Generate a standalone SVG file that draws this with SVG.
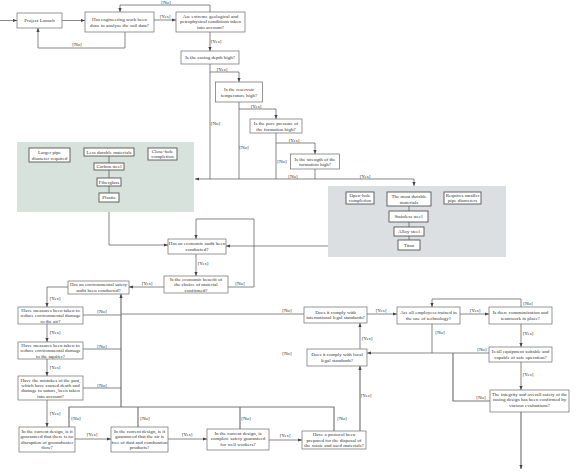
<svg xmlns="http://www.w3.org/2000/svg" width="576" height="472" viewBox="0 0 576 472">
<style>
text{font-family:"Liberation Serif","Times New Roman",serif;font-size:5px;fill:#333;text-anchor:middle}
.n rect{fill:#fff;stroke:#6a6a6a;stroke-width:0.7}
.in rect{fill:#fff;stroke:#555;stroke-width:0.9}
.c path{fill:none;stroke:#555;stroke-width:0.7}
.c path.b{stroke:#777;stroke-width:1.2}
</style>
<defs>
<marker id="a" viewBox="0 0 10 10" refX="10" refY="5" markerWidth="4" markerHeight="4" orient="auto" markerUnits="userSpaceOnUse"><path d="M0,1 L10,5 L0,9z" fill="#444"/></marker>
</defs>
<rect width="576" height="472" fill="#fff"/>
<rect id="green-region" x="17" y="142" width="177" height="70" fill="#d8e2dc"/>
<rect id="gray-region" x="328" y="186" width="178" height="71" fill="#dcdfe2"/>
<g class="c" id="connectors">
<path d="M0,20.5H17" marker-end="url(#a)"/>
<path d="M62,20.5H85" marker-end="url(#a)"/>
<path d="M154,20H176" marker-end="url(#a)"/>
<path d="M210,12V5H120V12" marker-end="url(#a)"/>
<path d="M125,32V48H38V28" marker-end="url(#a)"/>
<path d="M210,32V51" marker-end="url(#a)"/>
<path d="M210,64V179"/>
<path d="M210,72H239V82" marker-end="url(#a)"/>
<path d="M239,102V179"/>
<path d="M239,109H276V119" marker-end="url(#a)"/>
<path d="M276,133V179"/>
<path d="M276,143H315V154" marker-end="url(#a)"/>
<path d="M315,169V179"/>
<path d="M414,179H195" marker-end="url(#a)"/>
<path d="M414,179V186" marker-end="url(#a)"/>
<path d="M109,156V193"/>
<path d="M409,206V240"/>
<path d="M109,212V245H168" marker-end="url(#a)"/>
<path d="M328,246H226" marker-end="url(#a)"/>
<path d="M196,254V276" marker-end="url(#a)"/>
<path d="M228,287H254V219H196V239" marker-end="url(#a)"/>
<path d="M164,287H129" marker-end="url(#a)"/>
<path d="M68,287H47V307" marker-end="url(#a)"/>
<path d="M47,324V342" marker-end="url(#a)"/>
<path d="M47,359V376" marker-end="url(#a)"/>
<path d="M47,400V427" marker-end="url(#a)"/>
<path d="M75,439H111" marker-end="url(#a)"/>
<path d="M168,439H207" marker-end="url(#a)"/>
<path d="M269,440H302" marker-end="url(#a)"/>
<path class="b" d="M360,431V366" marker-end="url(#a)"/>
<path d="M360,349V323" marker-end="url(#a)"/>
<path d="M367,314H397" marker-end="url(#a)"/>
<path d="M460,314H489" marker-end="url(#a)"/>
<path d="M521,307V299H432V307" marker-end="url(#a)"/>
<path d="M521,324V347" marker-end="url(#a)"/>
<path d="M521,362V390" marker-end="url(#a)"/>
<path class="b" d="M521,412V469" marker-end="url(#a)"/>
<path d="M432,324V353H367" marker-end="url(#a)"/>
<path d="M489,353H432"/>
<path class="b" d="M490,401H453V353"/>
<path d="M304,314H121"/>
<path d="M83,315H121"/>
<path d="M83,349H121"/>
<path d="M83,388H121"/>
<path class="b" d="M121,407V294" marker-end="url(#a)"/>
<path class="b" d="M69,427V407H334V431"/>
<path class="b" d="M138,427V407"/>
<path class="b" d="M240,429V407"/>
</g>
<g id="labels">
<text x="165" y="18">[Yes]</text>
<text x="166" y="4">[No]</text>
<text x="77" y="46">[No]</text>
<text x="216" y="42.5">[Yes]</text>
<text x="222" y="70.5">[Yes]</text>
<text x="215.5" y="124.5">[No]</text>
<text x="256" y="107.5">[Yes]</text>
<text x="244" y="148.5">[No]</text>
<text x="294" y="141.5">[Yes]</text>
<text x="282" y="162.5">[No]</text>
<text x="293" y="177.5">[No]</text>
<text x="365" y="177.5">[Yes]</text>
<text x="203" y="264.5">[Yes]</text>
<text x="240" y="284.5">[No]</text>
<text x="147" y="284.5">[Yes]</text>
<text x="55" y="299.5">[Yes]</text>
<text x="55" y="333.5">[Yes]</text>
<text x="55" y="368.5">[Yes]</text>
<text x="55" y="414.5">[Yes]</text>
<text x="92" y="435.5">[Yes]</text>
<text x="187" y="435.5">[Yes]</text>
<text x="285" y="436.5">[Yes]</text>
<text x="366" y="396.5">[Yes]</text>
<text x="367" y="339.5">[Yes]</text>
<text x="381" y="312">[Yes]</text>
<text x="475" y="312">[Yes]</text>
<text x="528" y="304.5">[No]</text>
<text x="528" y="334.5">[Yes]</text>
<text x="528" y="375.5">[Yes]</text>
<text x="440" y="333.5">[No]</text>
<text x="482" y="350.5">[No]</text>
<text x="481" y="398.5">[No]</text>
<text x="287" y="311.5">[No]</text>
<text x="102" y="312.5">[No]</text>
<text x="102" y="347.5">[No]</text>
<text x="102" y="386.5">[No]</text>
<text x="76" y="419.5">[No]</text>
<text x="145" y="419.5">[No]</text>
<text x="246" y="419.5">[No]</text>
<text x="342" y="419.5">[No]</text>
<text x="287" y="354.5">[No]</text>
</g>
<g class="n" id="project-launch"><rect x="17" y="13" width="45" height="15"/><text x="39.5" y="22.2">Project Launch</text></g>
<g class="n" id="engineering"><rect x="85" y="12" width="69" height="20"/><text x="119.5" y="20.5">Has engineering work been</text><text x="119.5" y="26.5">done to analyze the soil data?</text></g>
<g class="n" id="extreme"><rect x="176" y="12" width="69" height="20"/><text x="210.5" y="17.8">Are extreme geological and</text><text x="210.5" y="23.3">petrophysical conditions taken</text><text x="210.5" y="28.8">into account?</text></g>
<g class="n" id="casing-depth"><rect x="181" y="51" width="58" height="13"/><text x="210" y="59.2">Is the casing depth high?</text></g>
<g class="n" id="reservoir"><rect x="215.5" y="82" width="47" height="20"/><text x="239" y="90.5">Is the reservoir</text><text x="239" y="96.5">temperature high?</text></g>
<g class="n" id="pore"><rect x="250" y="119" width="52" height="14"/><text x="276" y="125">Is the pore pressure of</text><text x="276" y="130.5">the formation high?</text></g>
<g class="n" id="strength"><rect x="290.5" y="154" width="49" height="15"/><text x="315" y="160.5">Is the strength of the</text><text x="315" y="166">formation high?</text></g>
<g class="in" id="larger-pipe"><rect x="29" y="148" width="41" height="14"/><text x="49.5" y="154">Larger pipe</text><text x="49.5" y="159.5">diameter required</text></g>
<g class="in" id="less-durable"><rect x="84" y="148" width="50" height="8"/><text x="109" y="153.7">Less durable materials</text></g>
<g class="in" id="close-hole"><rect x="148" y="148" width="29" height="12"/><text x="162.5" y="153">Close-hole</text><text x="162.5" y="158.3">completion</text></g>
<g class="in" id="carbon-steel"><rect x="94" y="163" width="30" height="7"/><text x="109" y="168.2">Carbon steel</text></g>
<g class="in" id="fiberglass"><rect x="97" y="178" width="24" height="8"/><text x="109" y="183.7">Fiberglass</text></g>
<g class="in" id="plastic"><rect x="99" y="193" width="20" height="9"/><text x="109" y="199.2">Plastic</text></g>
<g class="in" id="open-hole"><rect x="346" y="192" width="28" height="12"/><text x="360" y="197">Open-hole</text><text x="360" y="202.3">completion</text></g>
<g class="in" id="most-durable"><rect x="387" y="192" width="44" height="14"/><text x="409" y="198">The most durable</text><text x="409" y="203.5">materials</text></g>
<g class="in" id="smaller-pipe"><rect x="444" y="192" width="37" height="12"/><text x="462.5" y="197">Requires smaller</text><text x="462.5" y="202.3">pipe diameters</text></g>
<g class="in" id="stainless"><rect x="389" y="211" width="39" height="11"/><text x="408.5" y="218.2">Stainless steel</text></g>
<g class="in" id="alloy"><rect x="394" y="227" width="30" height="9"/><text x="409" y="233.2">Alloy steel</text></g>
<g class="in" id="titan"><rect x="398" y="240" width="22" height="10"/><text x="409" y="246.7">Titan</text></g>
<g class="n" id="economic-audit"><rect x="168" y="239" width="58" height="15"/><text x="197" y="245">Has an economic audit been</text><text x="197" y="250.5">conducted?</text></g>
<g class="n" id="economic-benefit"><rect x="164" y="276" width="64" height="17"/><text x="196" y="281.2">Is the economic benefit of</text><text x="196" y="286.4">the choice of material</text><text x="196" y="291.6">confirmed?</text></g>
<g class="n" id="env-audit"><rect x="68" y="281" width="61" height="13"/><text x="98.5" y="286.3">Has an environmental safety</text><text x="98.5" y="291.5">audit been conducted?</text></g>
<g class="n" id="air-measures"><rect x="18" y="307" width="65" height="17"/><text x="50.5" y="312.2">Have measures been taken to</text><text x="50.5" y="317.4">reduce environmental damage</text><text x="50.5" y="322.6">to the air?</text></g>
<g class="n" id="aquifer"><rect x="18" y="342" width="65" height="17"/><text x="50.5" y="347.2">Have measures been taken to</text><text x="50.5" y="352.4">reduce environmental damage</text><text x="50.5" y="357.6">to the aquifer?</text></g>
<g class="n" id="mistakes"><rect x="18" y="376" width="65" height="24"/><text x="50.5" y="381.5">Have the mistakes of the past,</text><text x="50.5" y="386.9">which have caused death and</text><text x="50.5" y="392.3">damage to nature, been taken</text><text x="50.5" y="397.7">into account?</text></g>
<g class="n" id="groundwater"><rect x="19" y="427" width="56" height="25"/><text x="47" y="433">In the current design, is it</text><text x="47" y="438.4">guaranteed that there is no</text><text x="47" y="443.8">disruption of groundwater</text><text x="47" y="449.2">flow?</text></g>
<g class="n" id="air-design"><rect x="111" y="427" width="57" height="25"/><text x="139.5" y="433">In the current design, is it</text><text x="139.5" y="438.4">guaranteed that the air is</text><text x="139.5" y="443.8">free of dust and combustion</text><text x="139.5" y="449.2">products?</text></g>
<g class="n" id="workers"><rect x="207" y="429" width="62" height="21"/><text x="238" y="434.7">In the current design, is</text><text x="238" y="440.2">complete safety guaranteed</text><text x="238" y="445.7">for well workers?</text></g>
<g class="n" id="protocol"><rect x="302" y="431" width="64" height="18"/><text x="334" y="436.4">Have a protocol been</text><text x="334" y="441.7">prepared for the disposal of</text><text x="334" y="447">the waste and used materials?</text></g>
<g class="n" id="local"><rect x="307" y="349" width="60" height="17"/><text x="337" y="356">Does it comply with local</text><text x="337" y="361.5">legal standards?</text></g>
<g class="n" id="international"><rect x="304" y="307" width="63" height="16"/><text x="335.5" y="313.5">Does it comply with</text><text x="335.5" y="319">international legal standards?</text></g>
<g class="n" id="employees"><rect x="397" y="307" width="63" height="17"/><text x="428.5" y="314">Are all employees trained in</text><text x="428.5" y="319.5">the use of technology?</text></g>
<g class="n" id="communication"><rect x="489" y="307" width="63" height="17"/><text x="520.5" y="314">Is there communication and</text><text x="520.5" y="319.5">teamwork in place?</text></g>
<g class="n" id="equipment"><rect x="489" y="347" width="63" height="15"/><text x="520.5" y="353">Is all equipment suitable and</text><text x="520.5" y="358.5">capable of safe operation?</text></g>
<g class="n" id="integrity"><rect x="490" y="390" width="79" height="22"/><text x="529.5" y="396">The integrity and overall safety of the</text><text x="529.5" y="401.4">casing design has been confirmed by</text><text x="529.5" y="406.8">various evaluations?</text></g>
</svg>
